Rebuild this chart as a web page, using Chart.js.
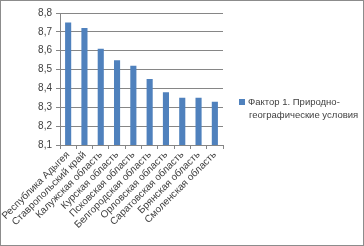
<!DOCTYPE html>
<html><head><meta charset="utf-8">
<script src="https://cdn.jsdelivr.net/npm/chart.js@4"></script>
<style>
html,body{margin:0;padding:0;background:#fff;}
#wrap{position:relative;width:364px;height:246px;}
#frame{position:absolute;left:0;top:0;width:364px;height:246px;box-sizing:border-box;border:1px solid #8c8c8c;pointer-events:none;}
#legend{position:absolute;left:239px;top:95px;font:9.5px "Liberation Sans",Arial,sans-serif;color:#404040;line-height:13px;}
#legend .sw{display:inline-block;width:6px;height:6px;background:#4F81BD;margin-right:3px;vertical-align:0px;}
</style></head><body>
<div id="wrap"><canvas id="c" width="364" height="246"></canvas><div id="frame"></div>
<div id="legend"><div><span class="sw"></span><span id="l1"></span></div><div style="padding-left:10px" id="l2"></div></div></div>
<script>
const categories = ["Республика Адыгея","Ставропольский край","Калужская область","Курская область","Псковская область","Белгородская область","Орловская область","Саратовская область","Брянская область","Смоленская область"];
const values = [8.75,8.72,8.61,8.55,8.52,8.45,8.38,8.35,8.35,8.33];
const seriesName = ["Фактор 1. Природно-","географические условия"];
const yTicks = [8.1,8.2,8.3,8.4,8.5,8.6,8.7,8.8];

document.getElementById('l1').textContent = seriesName[0];
document.getElementById('l2').textContent = seriesName[1];

const font = {family:'"Liberation Sans", Arial, sans-serif', size:10};
new Chart(document.getElementById('c'), {
  type:'bar',
  data:{labels:categories, datasets:[{label:seriesName.join(' '), data:values, backgroundColor:'#4F81BD', barPercentage:0.75, categoryPercentage:0.5}]},
  options:{
    responsive:false, animation:false, devicePixelRatio:1,
    layout:{padding:{left:0,right:141,top:13,bottom:0}},
    plugins:{legend:{display:false}, tooltip:{enabled:false}},
    scales:{
      x:{
        grid:{display:true, drawOnChartArea:false, color:'#868686', tickLength:4, offset:true},
        border:{color:'#868686'},
        ticks:{maxRotation:45, minRotation:45, autoSkip:false, color:'#404040', font:font, padding:0},
        afterFit(s){ s.height = 101; s.paddingLeft=0; s.paddingRight=0; }
      },
      y:{
        min:8.1, max:8.8,
        afterBuildTicks(s){ s.ticks = yTicks.map(v=>({value:v})); },
        grid:{color:'#868686', tickLength:4},
        border:{color:'#868686'},
        ticks:{color:'#404040', font:font, padding:4, callback:v=>v.toFixed(1).replace('.',',')},
        afterFit(s){ s.width = 60; s.paddingTop=0; s.paddingBottom=0; }
      }
    }
  }
});
</script></body></html>
